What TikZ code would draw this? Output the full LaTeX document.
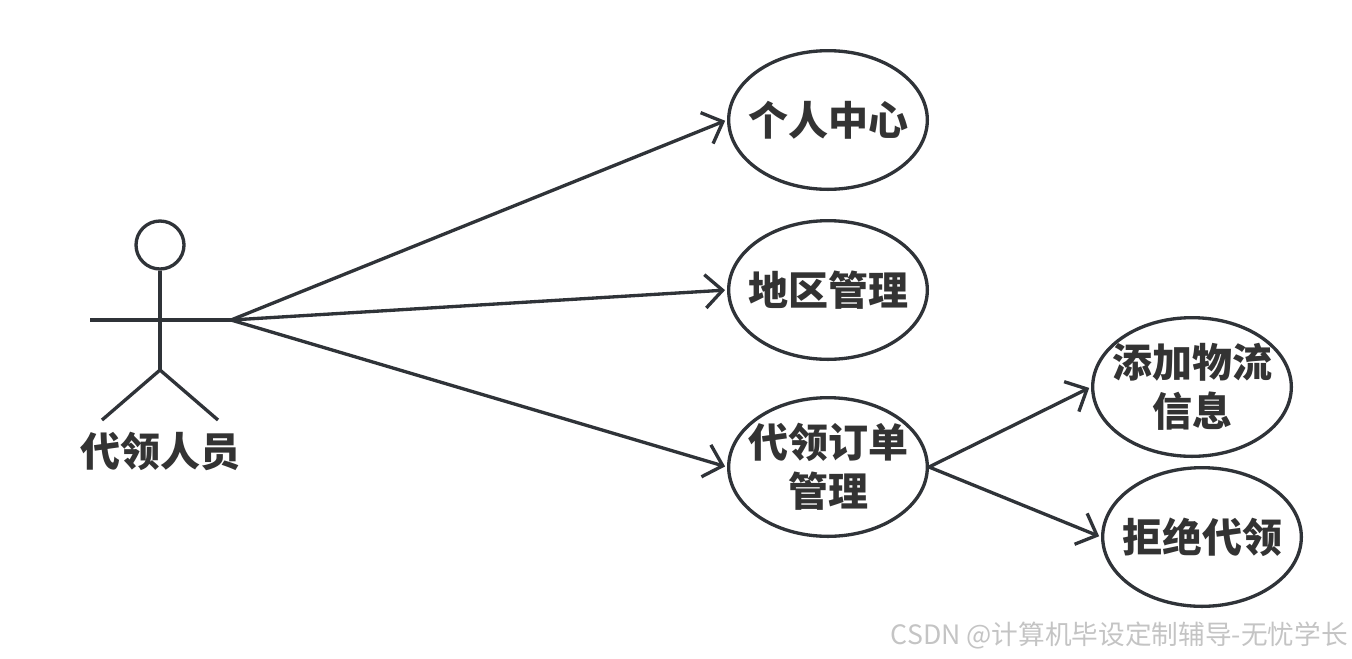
\documentclass[tikz,border=0pt]{standalone}
\usepackage{fontspec}
\newfontfamily\cjk{Noto Sans CJK SC}
\usetikzlibrary{arrows.meta,shapes.geometric}
\definecolor{umlline}{HTML}{2F3338}
\definecolor{umltext}{HTML}{333333}
\definecolor{marktext}{HTML}{C4C4C4}
\tikzset{
  usecase/.style={draw=umlline, ellipse, line width=2.5pt, minimum width=149pt, minimum height=104pt, inner xsep=-10pt, inner ysep=-4pt, align=center, text=umltext, font=\cjk\bfseries\fontsize{30}{37}\selectfont},
  limb/.style={draw=umlline, line width=2.5pt},
  assoc/.style={draw=umlline, line width=2.5pt, -{Straight Barb[length=13pt, width=25pt, line width=2.5pt]}, shorten >=1.5pt},
}
\begin{document}
\begin{tikzpicture}[x=0.75pt, y=-0.75pt]
    \useasboundingbox (0,0) rectangle (1352,658);

    % Actor
    \node[draw=umlline, circle, line width=2.5pt, minimum size=36pt, inner sep=0pt] (head) at (160,245) {};
    \coordinate (shoulder) at (160,320);
    \coordinate (handl) at (90,320);
    \coordinate (handr) at (231,320);
    \coordinate (hip) at (160,370);
    \coordinate (footl) at (102,420);
    \coordinate (footr) at (218,420);
    \draw[limb] (head.south) -- (hip);
    \draw[limb] (handl) -- (handr);
    \draw[limb] (footl) -- (hip) -- (footr);
    \node[text=umltext, font=\cjk\bfseries\fontsize{30}{37}\selectfont] (actor) at (160,451) {代领人员};

    % Use cases
    \node[usecase] (center) at (828,120) {个人中心};
    \node[usecase] (region) at (828,290) {地区管理};
    \node[usecase] (orders) at (828,467) {代领订单\\管理};
    \node[usecase] (logistics) at (1192,387) {添加物流\\信息};
    \node[usecase] (reject) at (1202,537) {拒绝代领};

    % Associations
    \draw[assoc] (handr) -- (center.west);
    \draw[assoc] (handr) -- (region.west);
    \draw[assoc] (handr) -- (orders.west);
    \draw[assoc] (orders.east) -- (logistics.west);
    \draw[assoc] (orders.east) -- (reject.west);

    % Watermark
    \node[anchor=east, text=marktext, font=\cjk\fontsize{20}{24}\selectfont, inner sep=0pt] (mark) at (1348,635) {CSDN @计算机毕设定制辅导-无忧学长};
\end{tikzpicture}
\end{document}
